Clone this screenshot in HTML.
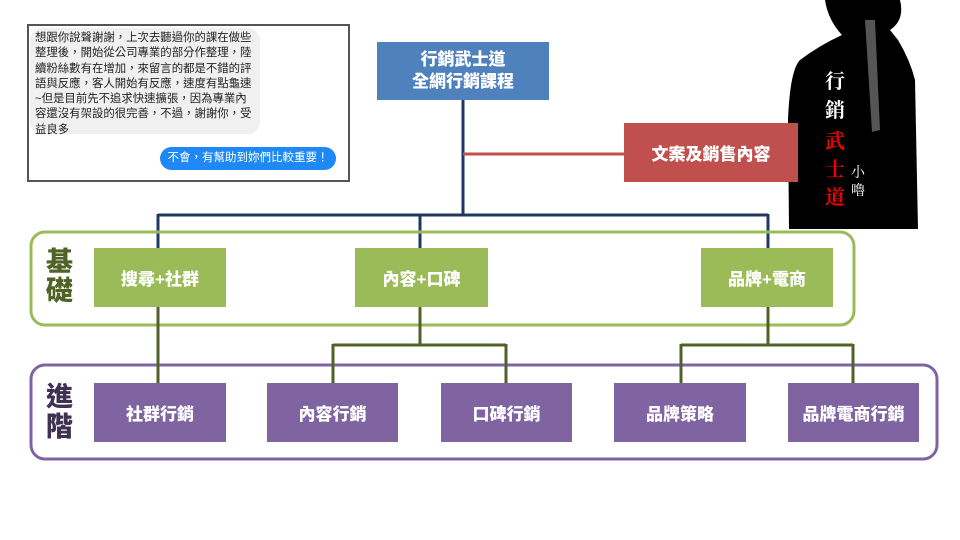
<!DOCTYPE html>
<html><head><meta charset="utf-8"><style>
body{margin:0;width:960px;height:540px;background:#fff;overflow:hidden;position:relative;font-family:"Liberation Sans","Noto Sans CJK TC",sans-serif}
.a{position:absolute;box-sizing:border-box}
.b{display:flex;align-items:center;justify-content:center;color:#fff;font-weight:900;font-size:17px;text-align:center}
.l{position:absolute}
</style></head><body>
<!-- chat -->
<div class="a" style="left:27px;top:24px;width:323px;height:158px;border:2px solid #555"></div>
<div class="a" style="left:30px;top:28px;width:230px;height:106px;background:#f0f0f0;border-radius:12px"></div>
<div class="a" style="left:35px;top:31px;white-space:nowrap;font-size:11.4px;line-height:15.3px;color:#222">想跟你說聲謝謝，上次去聽過你的課在做些<br>整理後，開始從公司專業的部分作整理，陸<br>續粉絲數有在增加，來留言的都是不錯的評<br>語與反應，客人開始有反應，速度有點龜速<br>~但是目前先不追求快速擴張，因為專業內<br>容還沒有架設的很完善，不過，謝謝你，受<br>益良多</div>
<div class="a" style="left:160px;top:147px;width:176px;height:23px;background:#1e88f5;border-radius:12px;color:#fff;font-size:11.5px;line-height:23px;text-align:center">不會，有幫助到妳們比較重要！</div>
<!-- silhouette -->
<svg class="l" style="left:780px;top:0" width="180" height="240">
<path d="M45 0 L120 0 Q125 20 110 30 L118 40 Q130 60 135 80 L138 229 L9 229 L8 120 Q10 70 20 60 Q40 45 62 35 Q48 20 45 0Z" fill="#000"/>
<path d="M85 20 L95 20 L100 130 L92 132Z" fill="#555"/>
<text x="45" y="88" font-size="20" fill="#fff" font-family="Noto Serif CJK SC,serif" font-weight="bold">行</text>
<text x="45" y="117" font-size="20" fill="#fff" font-family="Noto Serif CJK SC,serif" font-weight="bold">銷</text>
<text x="45" y="148" font-size="20" fill="#e00" font-family="Noto Serif CJK SC,serif" font-weight="bold">武</text>
<text x="45" y="176" font-size="20" fill="#e00" font-family="Noto Serif CJK SC,serif" font-weight="bold">士</text>
<text x="45" y="204" font-size="20" fill="#e00" font-family="Noto Serif CJK SC,serif" font-weight="bold">道</text>
<text x="71" y="177" font-size="14" fill="#fff" font-family="Noto Serif CJK SC,serif">小</text>
<text x="71" y="195" font-size="14" fill="#fff" font-family="Noto Serif CJK SC,serif">嚕</text>
</svg>
<!-- lines -->
<svg class="l" style="left:0;top:0" width="960" height="540">
<g stroke="#1f3864" stroke-width="3" fill="none">
<path d="M463 100V215M158 215H768M158 214V250M420 214V250M768 214V250"/>
</g>
<path d="M463 154H624" stroke="#c0504d" stroke-width="3"/>
<rect x="31" y="232" width="823" height="93" rx="14" fill="none" stroke="#9bbb59" stroke-width="3"/>
<rect x="31" y="365" width="906" height="94" rx="14" fill="none" stroke="#8064a2" stroke-width="3"/>
<g stroke="#4f6228" stroke-width="3" fill="none">
<path d="M158 307V384M420 307V345M333 345H506M333 344V384M506 344V384M768 307V345M681 345H853M681 344V384M853 344V384"/>
</g>
</svg>
<div class="a b" style="left:377px;top:42px;width:172px;height:58px;background:#4f81bd;line-height:22px">行銷武士道<br>全網行銷課程</div>
<div class="a b" style="left:624px;top:123px;width:174px;height:59px;background:#c0504d">文案及銷售內容</div>
<div class="a b" style="left:94px;top:248px;width:132px;height:59px;background:#9bbb59">搜尋+社群</div>
<div class="a b" style="left:355px;top:248px;width:133px;height:59px;background:#9bbb59">內容+口碑</div>
<div class="a b" style="left:701px;top:248px;width:132px;height:59px;background:#9bbb59">品牌+電商</div>
<div class="a b" style="left:94px;top:383px;width:132px;height:59px;background:#8064a2">社群行銷</div>
<div class="a b" style="left:267px;top:383px;width:131px;height:59px;background:#8064a2">內容行銷</div>
<div class="a b" style="left:441px;top:383px;width:131px;height:59px;background:#8064a2">口碑行銷</div>
<div class="a b" style="left:614px;top:383px;width:132px;height:59px;background:#8064a2">品牌策略</div>
<div class="a b" style="left:788px;top:383px;width:131px;height:59px;background:#8064a2">品牌電商行銷</div>
<div class="a" style="left:46px;top:248px;font-size:27px;line-height:29px;font-weight:900;color:#4f6228">基<br>礎</div>
<div class="a" style="left:46px;top:382px;font-size:27px;line-height:30px;font-weight:900;color:#3f3151">進<br>階</div>
</body></html>
